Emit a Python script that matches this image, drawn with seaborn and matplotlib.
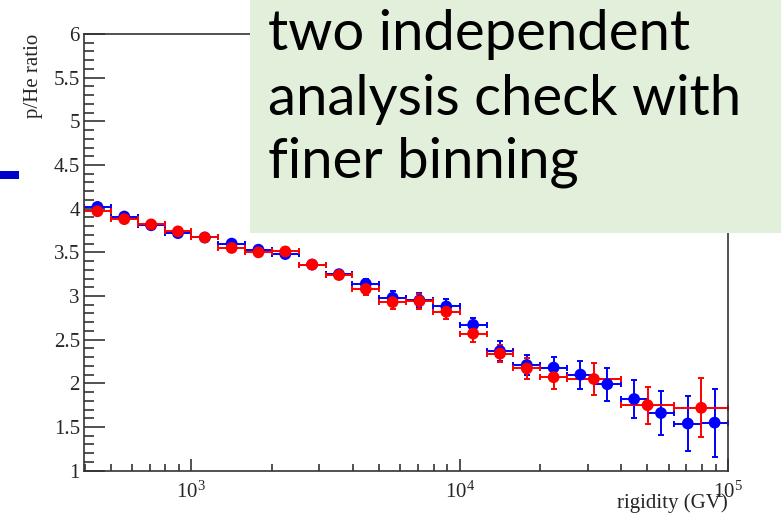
import numpy as np
import pandas as pd
import matplotlib
matplotlib.use("Agg")
import matplotlib.pyplot as plt
from matplotlib.patches import Rectangle
from matplotlib.ticker import LogLocator, MultipleLocator, FuncFormatter, NullFormatter
import seaborn as sns

# Rigidity binning (GV): ten logarithmic bins per decade
edges = [398.1, 501.2, 631.0, 794.3, 1000, 1258.9, 1584.9, 1995.3, 2511.9,
         3162.3, 3981.1, 5011.9, 6309.6, 7943.3, 10000, 12589, 15849, 19953,
         25119, 31623, 39811, 50119, 63096, 79433, 100000]
bin_mid = [446.7, 562.3, 707.9, 891.3, 1122, 1413, 1778, 2239, 2818, 3548,
           4467, 5623, 7079, 8913, 11220, 14125, 17783, 22387, 28184, 35481,
           44668, 56234, 70795, 89125]

# Analysis 1 (blue): p/He ratio per fine bin
blue_ratio = [4.02, 3.91, 3.81, 3.72, 3.67, 3.60, 3.53, 3.48, 3.36, 3.25,
              3.14, 2.98, 2.95, 2.88, 2.67, 2.37, 2.21, 2.18, 2.10, 1.99,
              1.82, 1.66, 1.54, 1.55]
blue_err = [0.03, 0.03, 0.03, 0.03, 0.03, 0.035, 0.035, 0.04, 0.04, 0.05,
            0.06, 0.08, 0.08, 0.08, 0.08, 0.11, 0.115, 0.12, 0.16, 0.19,
            0.215, 0.25, 0.31, 0.39]

# Analysis 2 (red): same bins, the highest rigidities merged in pairs
red_edges = edges[:19] + [39811, 63096, 100000]
red_mid = bin_mid[:18] + [31623, 50119, 79433]
red_ratio = [3.97, 3.88, 3.82, 3.74, 3.67, 3.55, 3.50, 3.51, 3.36, 3.24,
             3.08, 2.93, 2.94, 2.82, 2.57, 2.34, 2.17, 2.07, 2.05, 1.75,
             1.72]
red_err = [0.03, 0.03, 0.03, 0.03, 0.03, 0.035, 0.035, 0.04, 0.04, 0.05,
           0.065, 0.08, 0.085, 0.087, 0.10, 0.10, 0.12, 0.14, 0.185, 0.21,
           0.34]

note_lines = ["two independent", "analysis check with", "finer binning"]

sns.set_style("ticks")
plt.rcParams.update({
    "font.family": "serif",
    "font.serif": ["Liberation Serif", "DejaVu Serif"],
    "mathtext.fontset": "custom",
    "mathtext.rm": "Liberation Serif",
    "mathtext.it": "Liberation Serif:italic",
    "axes.edgecolor": "#333333",
    "axes.linewidth": 1.2,
})

fig = plt.figure(figsize=(7.81, 5.19), dpi=100)
fig.patch.set_facecolor("white")
ax = fig.add_axes([0.1076, 0.0931, 0.8246, 0.8414])

blue = "#0000ff"
red = "#ff0000"


def draw_bars(mid, bin_edges, ratio, err, color):
    mid = np.asarray(mid, dtype=float)
    lo = np.asarray(bin_edges[:-1], dtype=float)
    hi = np.asarray(bin_edges[1:], dtype=float)
    ax.errorbar(mid, ratio, xerr=[mid - lo, hi - mid], yerr=err, fmt="none",
                ecolor=color, elinewidth=1.4, capsize=2.2, capthick=1.4,
                zorder=2)


draw_bars(bin_mid, edges, blue_ratio, blue_err, blue)
draw_bars(red_mid, red_edges, red_ratio, red_err, red)

df = pd.concat([
    pd.DataFrame({"rigidity": bin_mid, "ratio": blue_ratio, "analysis": "A"}),
    pd.DataFrame({"rigidity": red_mid, "ratio": red_ratio, "analysis": "B"}),
], ignore_index=True)
sns.scatterplot(data=df, x="rigidity", y="ratio", hue="analysis",
                palette={"A": blue, "B": red}, s=72, linewidth=0,
                legend=False, ax=ax, zorder=3)

ax.set_xscale("log")
ax.set_xlim(398.1, 100000)
ax.set_ylim(1, 6)

ax.xaxis.set_major_locator(LogLocator(base=10))
ax.xaxis.set_minor_locator(LogLocator(base=10, subs=np.arange(2, 10)))
ax.xaxis.set_major_formatter(
    FuncFormatter(lambda v, p: f"$10^{{{int(round(np.log10(v)))}}}$"))
ax.xaxis.set_minor_formatter(NullFormatter())
ax.yaxis.set_major_locator(MultipleLocator(0.5))
ax.yaxis.set_minor_locator(MultipleLocator(0.1))
ax.yaxis.set_major_formatter(FuncFormatter(lambda v, p: f"{v:g}"))

ax.tick_params(axis="both", which="both", direction="in", color="#333333",
               width=1.2, top=False, right=False)
ax.tick_params(axis="y", which="major", length=15, pad=3, labelsize=15)
ax.tick_params(axis="y", which="minor", length=7.2)
ax.tick_params(axis="x", which="major", length=8.6, pad=8, labelsize=15)
ax.tick_params(axis="x", which="minor", length=5)
for s in ax.spines.values():
    s.set_visible(True)

ax.set_xlabel("rigidity (GV)", fontsize=15, loc="right")
ax.xaxis.set_label_coords(1.0, -0.052)
ax.set_ylabel("p/He ratio", fontsize=15, loc="top")
ax.yaxis.set_label_coords(-0.064, 1.0)

# Slide callout box and the stray slide marker on the left
fig.add_artist(Rectangle((250 / 781, 1 - 233 / 519), 531 / 781, 233 / 519,
                         transform=fig.transFigure, facecolor="#e2efda",
                         edgecolor="none", zorder=5))
fig.add_artist(Rectangle((0, 1 - 179 / 519), 19 / 781, 8 / 519,
                         transform=fig.transFigure, facecolor="#0000cc",
                         edgecolor="none", zorder=5))
for line, base_y in zip(note_lines, [50, 115, 177]):
    fig.text(268 / 781, 1 - base_y / 519, line, family="Lato", fontsize=40.5,
             color="black", ha="left", va="baseline", zorder=6)

fig.savefig("out.png", dpi=100, facecolor="white")
